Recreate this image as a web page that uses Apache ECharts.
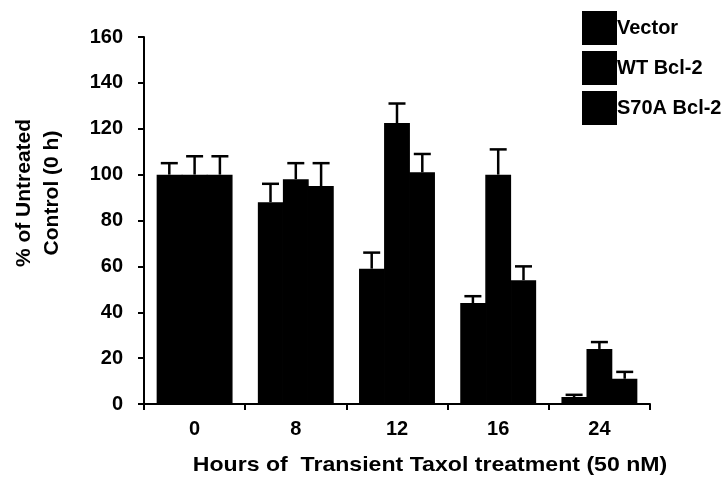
<!DOCTYPE html>
<html>
<head>
<meta charset="utf-8">
<script src="https://cdn.jsdelivr.net/npm/echarts@6/dist/echarts.min.js"></script>
<style>html,body{margin:0;padding:0;background:#fff;}#c{width:726px;height:480px;}</style>
</head>
<body>
<div id="c"></div>
<script>
var categories = ['0', '8', '12', '16', '24'];
var seriesNames = ['Vector', 'WT Bcl-2', 'S70A Bcl-2'];
var vectorVals = [100, 88, 59, 44, 3];
var vectorUpper = [105, 96, 66, 47, 4];
var wtVals = [100, 98, 122.5, 100, 24];
var wtUpper = [108, 105, 131, 111, 27];
var s70aVals = [100, 95, 101, 54, 11];
var s70aUpper = [108, 105, 109, 60, 14];
var yTicks = [0, 20, 40, 60, 80, 100, 120, 140, 160];

var FONT = '"Liberation Sans", Arial, Helvetica, sans-serif';
var chart = echarts.init(document.getElementById('c'), null, {renderer: 'canvas'});

var vals = [vectorVals, wtVals, s70aVals];
var ups = [vectorUpper, wtUpper, s70aUpper];
var series = [];
seriesNames.forEach(function (name, si) {
  series.push({
    name: name,
    type: 'bar',
    data: vals[si],
    barGap: '-3%',
    barCategoryGap: '25%',
    itemStyle: {color: '#000', borderColor: '#000', borderWidth: 1.5},
    z: 2
  });
});
seriesNames.forEach(function (name, si) {
  var data = categories.map(function (c, i) { return [i, vals[si][i], ups[si][i]]; });
  series.push({
    type: 'custom',
    name: name + ' err',
    data: data,
    z: 3,
    encode: {x: 0, y: [1, 2]},
    renderItem: function (params, api) {
      var idx = api.value(0);
      var bw = api.size([1, 0])[0] * 0.75 / 3;
      var base = api.coord([idx, api.value(1)]);
      var top = api.coord([idx, api.value(2)]);
      var x = base[0] + (si - 1) * bw;
      var half = 8.5;
      return {
        type: 'group',
        children: [
          {type: 'line', shape: {x1: x, y1: base[1], x2: x, y2: top[1]}, style: {stroke: '#000', lineWidth: 2.5}},
          {type: 'line', shape: {x1: x - half, y1: top[1], x2: x + half, y2: top[1]}, style: {stroke: '#000', lineWidth: 2.5}}
        ]
      };
    }
  });
});

chart.setOption({
  animation: false,
  backgroundColor: '#fff',
  grid: {left: 144, right: 76, top: 37, bottom: 76, containLabel: false},
  legend: {
    data: seriesNames,
    orient: 'vertical',
    left: 577, top: 6,
    itemWidth: 33, itemHeight: 32, itemGap: 6,
    icon: 'rect',
    textStyle: {fontFamily: FONT, fontWeight: 'bold', fontSize: 20, color: '#000', padding: [0, 0, 0, -4]}
  },
  xAxis: {
    type: 'category',
    data: categories,
    axisLine: {lineStyle: {color: '#000', width: 2}},
    axisTick: {show: true, length: 6, lineStyle: {color: '#000', width: 2}},
    axisLabel: {fontFamily: FONT, fontWeight: 'bold', fontSize: 20, color: '#000', margin: 15}
  },
  yAxis: {
    type: 'value',
    min: yTicks[0], max: yTicks[yTicks.length - 1], interval: 20,
    splitLine: {show: false},
    axisLine: {show: true, lineStyle: {color: '#000', width: 2}},
    axisTick: {show: true, length: 6, lineStyle: {color: '#000', width: 2}},
    axisLabel: {fontFamily: FONT, fontWeight: 'bold', fontSize: 20, color: '#000', margin: 21}
  },
  graphic: [
    {type: 'text', x: 38, y: 193, rotation: Math.PI / 2,
     style: {text: '% of Untreated\nControl (0 h)', font: 'bold 21px ' + FONT, fill: '#000', align: 'center', verticalAlign: 'middle', lineHeight: 28}},
    {type: 'text', x: 430, y: 465, scaleX: 1.1,
     style: {text: 'Hours of  Transient Taxol treatment (50 nM)', font: 'bold 21px ' + FONT, fill: '#000', align: 'center', verticalAlign: 'middle'}}
  ],
  series: series
});
</script>
</body>
</html>
